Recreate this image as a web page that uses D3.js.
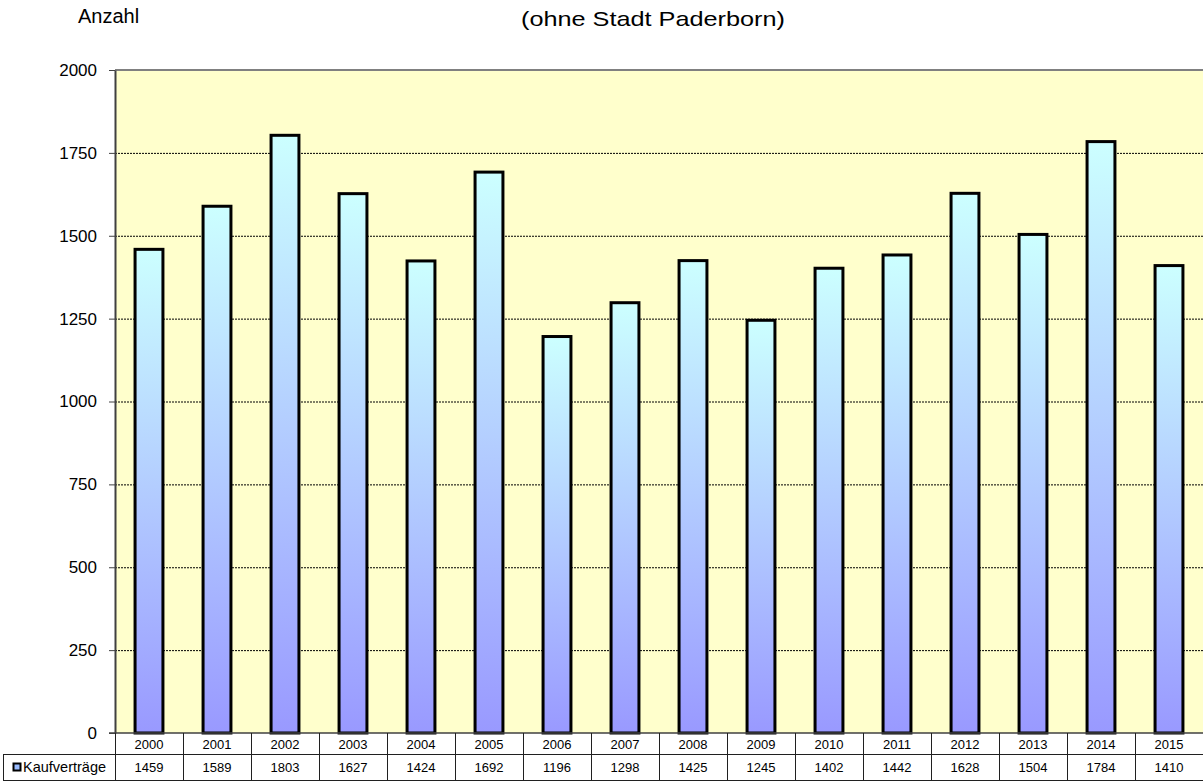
<!DOCTYPE html>
<html>
<head>
<meta charset="utf-8">
<script src="https://cdn.jsdelivr.net/npm/d3@7"></script>
<style>
  body { margin: 0; background: #ffffff; }
  svg { display: block; font-family: "Liberation Sans", Arial, sans-serif; }
</style>
</head>
<body>
<div id="chart"></div>
<script>
// data
var years = ["2000","2001","2002","2003","2004","2005","2006","2007","2008","2009","2010","2011","2012","2013","2014","2015"];
var kaufvertraege = [1459,1589,1803,1627,1424,1692,1196,1298,1425,1245,1402,1442,1628,1504,1784,1410];
var yTicks = [0,250,500,750,1000,1250,1500,1750,2000];
var seriesName = "Kaufverträge";

var width = 1204, height = 782;
var plot = {left: 115, right: 1203, top: 70, bottom: 733};

var svg = d3.select("#chart").append("svg")
    .attr("width", width)
    .attr("height", height);

// gradient for the bars (light cyan on top, lavender at the bottom)
var defs = svg.append("defs");
var grad = defs.append("linearGradient")
    .attr("id", "barGrad")
    .attr("x1", 0).attr("y1", 0).attr("x2", 0).attr("y2", 1);
grad.append("stop").attr("offset", "0%").attr("stop-color", "#ccffff");
grad.append("stop").attr("offset", "100%").attr("stop-color", "#9999ff");

var x = d3.scaleBand()
    .domain(years)
    .range([plot.left, plot.right])
    .paddingInner(0.59)
    .paddingOuter(0.295);

var band = d3.scaleBand().domain(years).range([plot.left, plot.right]);

var y = d3.scaleLinear()
    .domain([0, 2000])
    .range([plot.bottom, plot.top]);

// plot background
svg.append("rect")
    .attr("x", plot.left)
    .attr("y", plot.top)
    .attr("width", plot.right - plot.left)
    .attr("height", plot.bottom - plot.top)
    .attr("fill", "#ffffcc");

// dotted gridlines
svg.append("g")
    .selectAll("line")
    .data(yTicks.filter(function(d) { return d > 0 && d < 2000; }))
    .enter().append("line")
    .attr("x1", plot.left)
    .attr("x2", plot.right)
    .attr("y1", function(d) { return y(d) + 0.5; })
    .attr("y2", function(d) { return y(d) + 0.5; })
    .attr("stroke", "#000")
    .attr("stroke-width", 1)
    .attr("stroke-dasharray", "2,1");

// top border of plot
svg.append("line")
    .attr("x1", plot.left).attr("x2", plot.right)
    .attr("y1", plot.top).attr("y2", plot.top)
    .attr("stroke", "#808080")
    .attr("stroke-width", 2);

// bars
svg.append("g")
    .selectAll("rect")
    .data(kaufvertraege)
    .enter().append("rect")
    .attr("x", function(d, i) { return x(years[i]); })
    .attr("y", function(d) { return y(d); })
    .attr("width", x.bandwidth())
    .attr("height", function(d) { return y(0) - y(d); })
    .attr("fill", "url(#barGrad)")
    .attr("stroke", "#000")
    .attr("stroke-width", 3);

// y axis
var yAxis = svg.append("g")
    .attr("transform", "translate(" + plot.left + ",0)")
    .call(d3.axisLeft(y).tickValues(yTicks).tickFormat(d3.format("d"))
        .tickSize(6).tickPadding(12).tickSizeOuter(0));
yAxis.select(".domain").attr("stroke", "#404040").attr("stroke-width", 2);
yAxis.selectAll(".tick line").attr("stroke", "#404040");
yAxis.selectAll("text")
    .attr("fill", "#000")
    .style("font-size", "17px")
    .style("font-family", "'Liberation Sans', Arial, sans-serif");

// baseline
svg.append("line")
    .attr("x1", plot.left - 6).attr("x2", plot.right)
    .attr("y1", plot.bottom).attr("y2", plot.bottom)
    .attr("stroke", "#404040")
    .attr("stroke-width", 1.5);

// data table under the chart
var row1 = {top: 733, bottom: 754};
var row2 = {top: 754, bottom: 780};
var table = svg.append("g").attr("fill", "none").attr("stroke", "#202020").attr("stroke-width", 1);

table.append("line")
    .attr("x1", plot.left).attr("x2", plot.right)
    .attr("y1", row1.bottom + 0.5).attr("y2", row1.bottom + 0.5);
table.append("line")
    .attr("x1", 3).attr("x2", plot.right)
    .attr("y1", row2.top + 0.5).attr("y2", row2.top + 0.5);
table.append("line")
    .attr("x1", 3).attr("x2", plot.right)
    .attr("y1", row2.bottom + 0.5).attr("y2", row2.bottom + 0.5);
table.append("line")
    .attr("x1", 3.5).attr("x2", 3.5)
    .attr("y1", row2.top).attr("y2", row2.bottom);

table.selectAll("line.sep")
    .data(years)
    .enter().append("line")
    .attr("class", "sep")
    .attr("x1", function(d) { return Math.round(band(d)) + 0.5; })
    .attr("x2", function(d) { return Math.round(band(d)) + 0.5; })
    .attr("y1", row1.top)
    .attr("y2", row2.bottom);

svg.append("g")
    .selectAll("text")
    .data(years)
    .enter().append("text")
    .attr("x", function(d) { return band(d) + band.bandwidth() / 2; })
    .attr("y", row1.bottom - 5)
    .attr("text-anchor", "middle")
    .style("font-size", "13px")
    .text(function(d) { return d; });

svg.append("g")
    .selectAll("text")
    .data(kaufvertraege)
    .enter().append("text")
    .attr("x", function(d, i) { return band(years[i]) + band.bandwidth() / 2; })
    .attr("y", row2.bottom - 8)
    .attr("text-anchor", "middle")
    .style("font-size", "13px")
    .text(function(d) { return d; });

// legend key in the table
svg.append("rect")
    .attr("x", 13.5).attr("y", 763.5)
    .attr("width", 7).attr("height", 7)
    .attr("fill", "#99bbff")
    .attr("stroke", "#000")
    .attr("stroke-width", 2);
svg.append("text")
    .attr("x", 23)
    .attr("y", row2.bottom - 8)
    .style("font-size", "14.5px")
    .text(seriesName);

// titles
svg.append("text")
    .attr("x", 78)
    .attr("y", 23)
    .style("font-size", "20px")
    .text("Anzahl");

svg.append("text")
    .attr("x", 521)
    .attr("y", 26)
    .attr("textLength", 264)
    .attr("lengthAdjust", "spacingAndGlyphs")
    .style("font-size", "21px")
    .text("(ohne Stadt Paderborn)");
</script>
</body>
</html>
